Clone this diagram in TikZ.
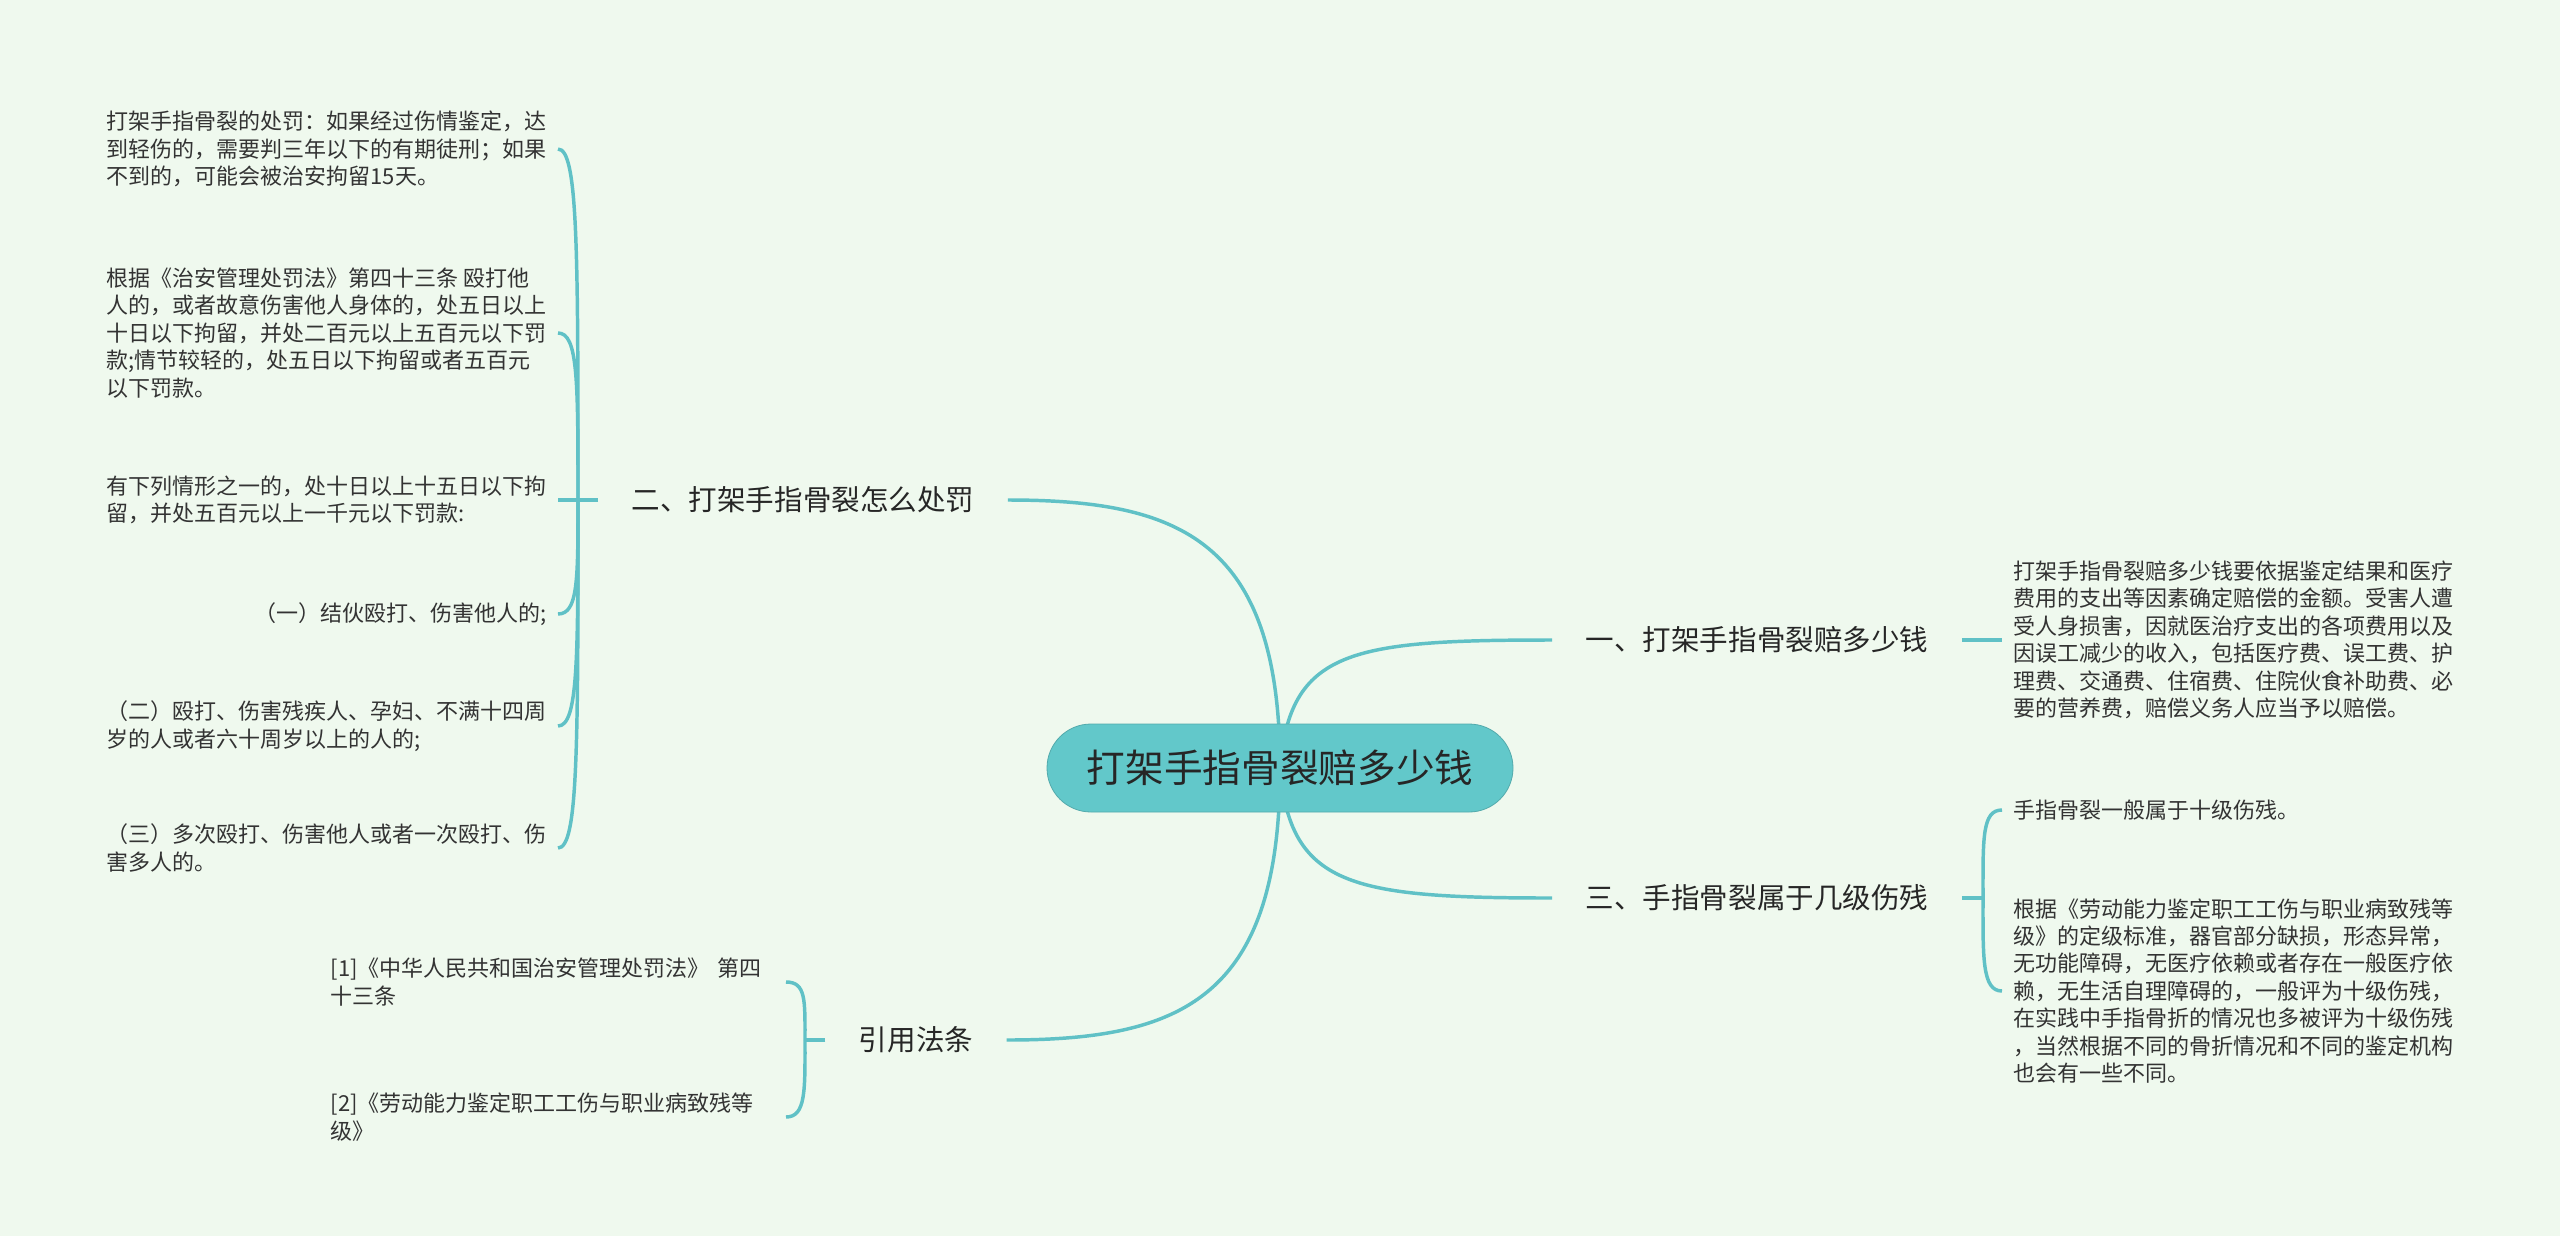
\documentclass[tikz,border=0pt]{standalone}
\usepackage{fontspec}
\setmainfont{Noto Sans CJK SC}
\usepackage{tikz}
\usetikzlibrary{backgrounds}
\definecolor{bgmint}{RGB}{239,249,238}
\definecolor{linkteal}{RGB}{96,193,198}
\definecolor{rootteal}{RGB}{98,200,202}
\definecolor{inkgray}{RGB}{51,51,51}

\begin{document}
\begin{tikzpicture}[x=0.75pt,y=-0.75pt,
    link/.style={draw=linkteal,line width=2.6pt},
    root/.style={fill=rootteal,draw=rootteal!85!black,line width=0.6pt,rounded corners=33pt,
      minimum width=349.5pt,minimum height=66pt,inner sep=0pt,text=black!85,
      font=\fontsize{29pt}{35pt}\selectfont},
    topic/.style={inner xsep=25pt,inner ysep=4pt,text=black!85,
      font=\fontsize{21.4pt}{26pt}\selectfont},
    leaf/.style={inner xsep=8.25pt,inner ysep=2pt,align=left,text=inkgray,
      font=\fontsize{16.5pt}{20.6pt}\selectfont}
  ]
  \useasboundingbox (0,0) rectangle (2560,1236);

  \node[root] (root) at (1280,768) {打架手指骨裂赔多少钱};

  \node[topic] (t1) at (1757,640) {一、打架手指骨裂赔多少钱};
  \node[topic] (t2) at (803,500) {二、打架手指骨裂怎么处罚};
  \node[topic] (t3) at (1757,898) {三、手指骨裂属于几级伤残};
  \node[topic] (t4) at (916,1040) {引用法条};

  % left side
  \node[leaf,anchor=east] (l21) at (558,149) {打架手指骨裂的处罚：如果经过伤情鉴定，达\\到轻伤的，需要判三年以下的有期徒刑；如果\\不到的，可能会被治安拘留15天。};
  \node[leaf,anchor=east] (l22) at (558,333) {根据《治安管理处罚法》第四十三条 殴打他\\人的，或者故意伤害他人身体的，处五日以上\\十日以下拘留，并处二百元以上五百元以下罚\\款;情节较轻的，处五日以下拘留或者五百元\\以下罚款。};
  \node[leaf,anchor=east] (l23) at (558,500) {有下列情形之一的，处十日以上十五日以下拘\\留，并处五百元以上一千元以下罚款:};
  \node[leaf,anchor=east] (l24) at (558,614) {（一）结伙殴打、伤害他人的;};
  \node[leaf,anchor=east] (l25) at (558,726) {（二）殴打、伤害残疾人、孕妇、不满十四周\\岁的人或者六十周岁以上的人的;};
  \node[leaf,anchor=east] (l26) at (558,848) {（三）多次殴打、伤害他人或者一次殴打、伤\\害多人的。};
  \node[leaf,anchor=east,text width=333pt] (r1) at (786,982) {[1]《中华人民共和国治安管理处罚法》 第四\\十三条};
  \node[leaf,anchor=east,text width=333pt] (r2) at (786,1117) {[2]《劳动能力鉴定职工工伤与职业病致残等\\级》};

  % right side
  \node[leaf,anchor=west] (l11) at (2002,640) {打架手指骨裂赔多少钱要依据鉴定结果和医疗\\费用的支出等因素确定赔偿的金额。受害人遭\\受人身损害，因就医治疗支出的各项费用以及\\因误工减少的收入，包括医疗费、误工费、护\\理费、交通费、住宿费、住院伙食补助费、必\\要的营养费，赔偿义务人应当予以赔偿。};
  \node[leaf,anchor=west] (l31) at (2002,810) {手指骨裂一般属于十级伤残。};
  \node[leaf,anchor=west] (l32) at (2002,991) {根据《劳动能力鉴定职工工伤与职业病致残等\\级》的定级标准，器官部分缺损，形态异常，\\无功能障碍，无医疗依赖或者存在一般医疗依\\赖，无生活自理障碍的，一般评为十级伤残，\\在实践中手指骨折的情况也多被评为十级伤残\\，当然根据不同的骨折情况和不同的鉴定机构\\也会有一些不同。};

  \coordinate (j2) at (578,500);
  \coordinate (j3) at (1983,898);
  \coordinate (j4) at (805,1040);

  \begin{scope}[on background layer]
    \fill[bgmint] (0,0) rectangle (2560,1236);
    \draw[link] (root.center) .. controls (1290,650) and (1350,640) .. (t1.west);
    \draw[link] (root.center) .. controls (1280,540) and (1180,500) .. (t2.east);
    \draw[link] (root.center) .. controls (1290,886) and (1350,898) .. (t3.west);
    \draw[link] (root.center) .. controls (1280,1000) and (1180,1040) .. (t4.east);

    \draw[link] (t1.east) -- (l11.west);

    \draw[link] (t2.west) -- (l23.east);
    \draw[link] (j2) .. controls +(0,-250) and +(20,0) .. (l21.east);
    \draw[link] (j2) .. controls +(0,-120) and +(20,0) .. (l22.east);
    \draw[link] (j2) .. controls +(0,80) and +(20,0) .. (l24.east);
    \draw[link] (j2) .. controls +(0,160) and +(20,0) .. (l25.east);
    \draw[link] (j2) .. controls +(0,250) and +(20,0) .. (l26.east);

    \draw[link] (t3.east) -- (j3);
    \draw[link] (j3) .. controls +(0,-60) and +(-20,0) .. (l31.west);
    \draw[link] (j3) .. controls +(0,60) and +(-20,0) .. (l32.west);

    \draw[link] (t4.west) -- (j4);
    \draw[link] (j4) .. controls +(0,-40) and +(20,0) .. (r1.east);
    \draw[link] (j4) .. controls +(0,50) and +(20,0) .. (r2.east);
  \end{scope}
\end{tikzpicture}
\end{document}
